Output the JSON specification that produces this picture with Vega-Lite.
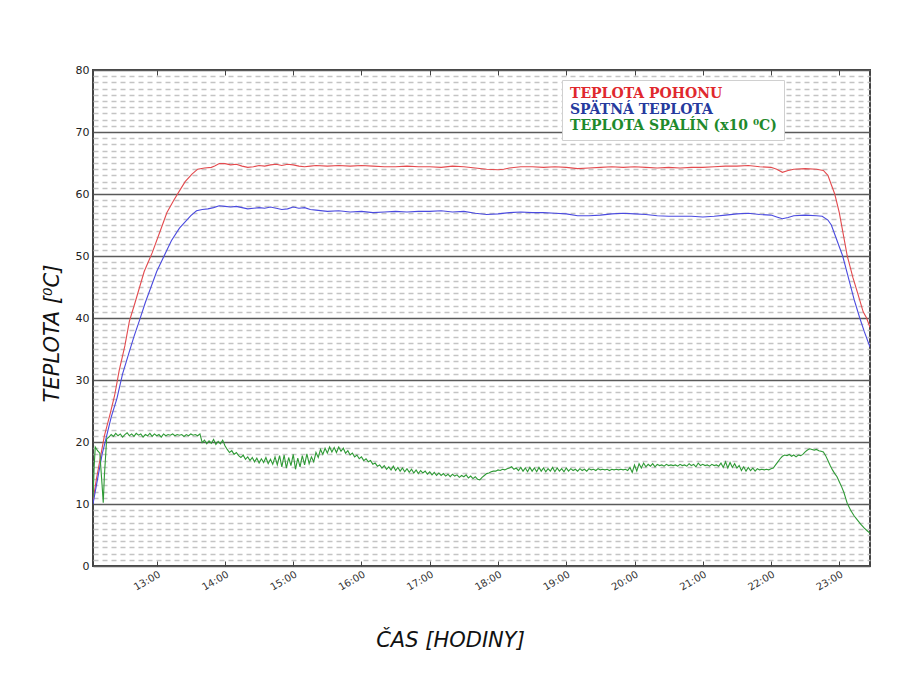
{
  "$schema": "https://vega.github.io/schema/vega-lite/v6.json",
  "width": 777,
  "height": 496,
  "autosize": {"type": "none"},
  "padding": {"left": 93, "top": 70, "right": 30, "bottom": 109},
  "background": "white",
  "config": {
    "view": {"stroke": "#444444", "strokeWidth": 2},
    "font": "DejaVu Sans"
  },
  "data": {
    "values": [
      {"s":"a","t":"2024-01-01T12:04","v":10.5},{"s":"a","t":"2024-01-01T12:07","v":14},{"s":"a","t":"2024-01-01T12:11","v":18},{"s":"a","t":"2024-01-01T12:14","v":21},{"s":"a","t":"2024-01-01T12:19","v":24.5},{"s":"a","t":"2024-01-01T12:23","v":27.5},{"s":"a","t":"2024-01-01T12:27","v":31.5},{"s":"a","t":"2024-01-01T12:32","v":35.5},{"s":"a","t":"2024-01-01T12:36","v":39.5},{"s":"a","t":"2024-01-01T12:41","v":42.5},{"s":"a","t":"2024-01-01T12:45","v":45},{"s":"a","t":"2024-01-01T12:49","v":47.5},{"s":"a","t":"2024-01-01T12:56","v":50.5},{"s":"a","t":"2024-01-01T13:03","v":54},{"s":"a","t":"2024-01-01T13:09","v":57},{"s":"a","t":"2024-01-01T13:15","v":59},{"s":"a","t":"2024-01-01T13:20","v":60.5},{"s":"a","t":"2024-01-01T13:25","v":62},{"s":"a","t":"2024-01-01T13:31","v":63.2},{"s":"a","t":"2024-01-01T13:36","v":64},{"s":"a","t":"2024-01-01T13:42","v":64.2},{"s":"a","t":"2024-01-01T13:48","v":64.3},{"s":"a","t":"2024-01-01T13:51","v":64.5},{"s":"a","t":"2024-01-01T13:55","v":64.9},{"s":"a","t":"2024-01-01T14:00","v":64.9},{"s":"a","t":"2024-01-01T14:05","v":64.7},{"s":"a","t":"2024-01-01T14:10","v":64.8},{"s":"a","t":"2024-01-01T14:15","v":64.5},{"s":"a","t":"2024-01-01T14:20","v":64.3},{"s":"a","t":"2024-01-01T14:25","v":64.4},{"s":"a","t":"2024-01-01T14:30","v":64.6},{"s":"a","t":"2024-01-01T14:35","v":64.5},{"s":"a","t":"2024-01-01T14:40","v":64.7},{"s":"a","t":"2024-01-01T14:45","v":64.8},{"s":"a","t":"2024-01-01T14:50","v":64.6},{"s":"a","t":"2024-01-01T14:55","v":64.8},{"s":"a","t":"2024-01-01T15:00","v":64.7},{"s":"a","t":"2024-01-01T15:05","v":64.5},{"s":"a","t":"2024-01-01T15:10","v":64.4},{"s":"a","t":"2024-01-01T15:15","v":64.5},{"s":"a","t":"2024-01-01T15:20","v":64.6},{"s":"a","t":"2024-01-01T15:30","v":64.5},{"s":"a","t":"2024-01-01T15:40","v":64.6},{"s":"a","t":"2024-01-01T15:50","v":64.5},{"s":"a","t":"2024-01-01T16:00","v":64.6},{"s":"a","t":"2024-01-01T16:10","v":64.5},{"s":"a","t":"2024-01-01T16:20","v":64.4},{"s":"a","t":"2024-01-01T16:30","v":64.4},{"s":"a","t":"2024-01-01T16:40","v":64.5},{"s":"a","t":"2024-01-01T16:50","v":64.4},{"s":"a","t":"2024-01-01T17:00","v":64.4},{"s":"a","t":"2024-01-01T17:10","v":64.3},{"s":"a","t":"2024-01-01T17:20","v":64.5},{"s":"a","t":"2024-01-01T17:30","v":64.4},{"s":"a","t":"2024-01-01T17:40","v":64.2},{"s":"a","t":"2024-01-01T17:50","v":64.0},{"s":"a","t":"2024-01-01T18:00","v":63.9},{"s":"a","t":"2024-01-01T18:05","v":64.0},{"s":"a","t":"2024-01-01T18:10","v":64.2},{"s":"a","t":"2024-01-01T18:20","v":64.4},{"s":"a","t":"2024-01-01T18:30","v":64.4},{"s":"a","t":"2024-01-01T18:40","v":64.3},{"s":"a","t":"2024-01-01T18:50","v":64.4},{"s":"a","t":"2024-01-01T19:00","v":64.3},{"s":"a","t":"2024-01-01T19:10","v":64.1},{"s":"a","t":"2024-01-01T19:20","v":64.2},{"s":"a","t":"2024-01-01T19:30","v":64.3},{"s":"a","t":"2024-01-01T19:40","v":64.4},{"s":"a","t":"2024-01-01T19:50","v":64.3},{"s":"a","t":"2024-01-01T20:00","v":64.4},{"s":"a","t":"2024-01-01T20:10","v":64.3},{"s":"a","t":"2024-01-01T20:20","v":64.2},{"s":"a","t":"2024-01-01T20:30","v":64.3},{"s":"a","t":"2024-01-01T20:40","v":64.2},{"s":"a","t":"2024-01-01T20:50","v":64.3},{"s":"a","t":"2024-01-01T21:00","v":64.3},{"s":"a","t":"2024-01-01T21:10","v":64.4},{"s":"a","t":"2024-01-01T21:20","v":64.5},{"s":"a","t":"2024-01-01T21:30","v":64.5},{"s":"a","t":"2024-01-01T21:40","v":64.6},{"s":"a","t":"2024-01-01T21:50","v":64.4},{"s":"a","t":"2024-01-01T22:00","v":64.3},{"s":"a","t":"2024-01-01T22:05","v":64.0},{"s":"a","t":"2024-01-01T22:10","v":63.5},{"s":"a","t":"2024-01-01T22:15","v":63.8},{"s":"a","t":"2024-01-01T22:20","v":64.0},{"s":"a","t":"2024-01-01T22:30","v":64.1},{"s":"a","t":"2024-01-01T22:40","v":64.0},{"s":"a","t":"2024-01-01T22:46","v":63.8},{"s":"a","t":"2024-01-01T22:50","v":63.0},{"s":"a","t":"2024-01-01T22:53","v":61.5},{"s":"a","t":"2024-01-01T22:56","v":60},{"s":"a","t":"2024-01-01T23:00","v":57},{"s":"a","t":"2024-01-01T23:04","v":53},{"s":"a","t":"2024-01-01T23:07","v":50},{"s":"a","t":"2024-01-01T23:12","v":46.5},{"s":"a","t":"2024-01-01T23:17","v":43.5},{"s":"a","t":"2024-01-01T23:21","v":41},{"s":"a","t":"2024-01-01T23:24","v":40},{"s":"a","t":"2024-01-01T23:27","v":38.5},
      {"s":"b","t":"2024-01-01T12:04","v":10},{"s":"b","t":"2024-01-01T12:08","v":14},{"s":"b","t":"2024-01-01T12:12","v":18},{"s":"b","t":"2024-01-01T12:16","v":21},{"s":"b","t":"2024-01-01T12:20","v":24},{"s":"b","t":"2024-01-01T12:25","v":27},{"s":"b","t":"2024-01-01T12:30","v":31},{"s":"b","t":"2024-01-01T12:35","v":34},{"s":"b","t":"2024-01-01T12:40","v":37},{"s":"b","t":"2024-01-01T12:45","v":39.7},{"s":"b","t":"2024-01-01T12:50","v":42.5},{"s":"b","t":"2024-01-01T12:55","v":45},{"s":"b","t":"2024-01-01T13:00","v":47.5},{"s":"b","t":"2024-01-01T13:07","v":50.2},{"s":"b","t":"2024-01-01T13:13","v":52.5},{"s":"b","t":"2024-01-01T13:20","v":54.5},{"s":"b","t":"2024-01-01T13:25","v":55.5},{"s":"b","t":"2024-01-01T13:30","v":56.5},{"s":"b","t":"2024-01-01T13:35","v":57.3},{"s":"b","t":"2024-01-01T13:40","v":57.5},{"s":"b","t":"2024-01-01T13:45","v":57.6},{"s":"b","t":"2024-01-01T13:50","v":57.8},{"s":"b","t":"2024-01-01T13:55","v":58.1},{"s":"b","t":"2024-01-01T14:00","v":58.0},{"s":"b","t":"2024-01-01T14:05","v":57.9},{"s":"b","t":"2024-01-01T14:10","v":58.0},{"s":"b","t":"2024-01-01T14:15","v":57.8},{"s":"b","t":"2024-01-01T14:20","v":57.6},{"s":"b","t":"2024-01-01T14:25","v":57.7},{"s":"b","t":"2024-01-01T14:30","v":57.8},{"s":"b","t":"2024-01-01T14:35","v":57.7},{"s":"b","t":"2024-01-01T14:40","v":57.9},{"s":"b","t":"2024-01-01T14:45","v":57.7},{"s":"b","t":"2024-01-01T14:50","v":57.5},{"s":"b","t":"2024-01-01T14:55","v":57.6},{"s":"b","t":"2024-01-01T15:00","v":57.9},{"s":"b","t":"2024-01-01T15:05","v":57.7},{"s":"b","t":"2024-01-01T15:10","v":57.8},{"s":"b","t":"2024-01-01T15:15","v":57.5},{"s":"b","t":"2024-01-01T15:20","v":57.4},{"s":"b","t":"2024-01-01T15:30","v":57.2},{"s":"b","t":"2024-01-01T15:40","v":57.3},{"s":"b","t":"2024-01-01T15:50","v":57.1},{"s":"b","t":"2024-01-01T16:00","v":57.2},{"s":"b","t":"2024-01-01T16:10","v":57.0},{"s":"b","t":"2024-01-01T16:20","v":57.1},{"s":"b","t":"2024-01-01T16:30","v":57.2},{"s":"b","t":"2024-01-01T16:40","v":57.1},{"s":"b","t":"2024-01-01T16:50","v":57.2},{"s":"b","t":"2024-01-01T17:00","v":57.2},{"s":"b","t":"2024-01-01T17:10","v":57.3},{"s":"b","t":"2024-01-01T17:20","v":57.1},{"s":"b","t":"2024-01-01T17:30","v":57.2},{"s":"b","t":"2024-01-01T17:40","v":56.9},{"s":"b","t":"2024-01-01T17:50","v":56.7},{"s":"b","t":"2024-01-01T18:00","v":56.8},{"s":"b","t":"2024-01-01T18:10","v":57.0},{"s":"b","t":"2024-01-01T18:20","v":57.1},{"s":"b","t":"2024-01-01T18:30","v":57.0},{"s":"b","t":"2024-01-01T18:40","v":57.0},{"s":"b","t":"2024-01-01T18:50","v":56.9},{"s":"b","t":"2024-01-01T19:00","v":56.8},{"s":"b","t":"2024-01-01T19:10","v":56.5},{"s":"b","t":"2024-01-01T19:20","v":56.5},{"s":"b","t":"2024-01-01T19:30","v":56.6},{"s":"b","t":"2024-01-01T19:40","v":56.8},{"s":"b","t":"2024-01-01T19:50","v":56.9},{"s":"b","t":"2024-01-01T20:00","v":56.8},{"s":"b","t":"2024-01-01T20:10","v":56.7},{"s":"b","t":"2024-01-01T20:20","v":56.5},{"s":"b","t":"2024-01-01T20:30","v":56.4},{"s":"b","t":"2024-01-01T20:40","v":56.4},{"s":"b","t":"2024-01-01T20:50","v":56.4},{"s":"b","t":"2024-01-01T21:00","v":56.3},{"s":"b","t":"2024-01-01T21:10","v":56.4},{"s":"b","t":"2024-01-01T21:20","v":56.6},{"s":"b","t":"2024-01-01T21:30","v":56.8},{"s":"b","t":"2024-01-01T21:40","v":56.9},{"s":"b","t":"2024-01-01T21:50","v":56.7},{"s":"b","t":"2024-01-01T22:00","v":56.6},{"s":"b","t":"2024-01-01T22:05","v":56.3},{"s":"b","t":"2024-01-01T22:10","v":56.0},{"s":"b","t":"2024-01-01T22:15","v":56.2},{"s":"b","t":"2024-01-01T22:20","v":56.5},{"s":"b","t":"2024-01-01T22:30","v":56.6},{"s":"b","t":"2024-01-01T22:40","v":56.5},{"s":"b","t":"2024-01-01T22:45","v":56.4},{"s":"b","t":"2024-01-01T22:50","v":55.8},{"s":"b","t":"2024-01-01T22:53","v":55.0},{"s":"b","t":"2024-01-01T22:56","v":53.5},{"s":"b","t":"2024-01-01T23:00","v":51.5},{"s":"b","t":"2024-01-01T23:03","v":50},{"s":"b","t":"2024-01-01T23:08","v":46.5},{"s":"b","t":"2024-01-01T23:13","v":43},{"s":"b","t":"2024-01-01T23:18","v":40},{"s":"b","t":"2024-01-01T23:22","v":37.8},{"s":"b","t":"2024-01-01T23:27","v":35.3},
      {"s":"c","t":"2024-01-01T12:04","v":11},{"s":"c","t":"2024-01-01T12:05","v":16},{"s":"c","t":"2024-01-01T12:06","v":19.2},{"s":"c","t":"2024-01-01T12:08","v":18.6},{"s":"c","t":"2024-01-01T12:10","v":18.2},{"s":"c","t":"2024-01-01T12:12","v":13},{"s":"c","t":"2024-01-01T12:13","v":10.2},{"s":"c","t":"2024-01-01T12:14","v":14.5},{"s":"c","t":"2024-01-01T12:16","v":20.5},{"s":"c","t":"2024-01-01T12:18","v":20.8},{"s":"c","t":"2024-01-01T12:20","v":21.2},{"s":"c","t":"2024-01-01T12:22","v":20.9},{"s":"c","t":"2024-01-01T12:24","v":21.4},{"s":"c","t":"2024-01-01T12:26","v":21.0},{"s":"c","t":"2024-01-01T12:28","v":21.3},{"s":"c","t":"2024-01-01T12:30","v":20.8},{"s":"c","t":"2024-01-01T12:32","v":21.2},{"s":"c","t":"2024-01-01T12:34","v":21.5},{"s":"c","t":"2024-01-01T12:36","v":21.0},{"s":"c","t":"2024-01-01T12:38","v":21.3},{"s":"c","t":"2024-01-01T12:40","v":20.9},{"s":"c","t":"2024-01-01T12:42","v":21.4},{"s":"c","t":"2024-01-01T12:44","v":21.1},{"s":"c","t":"2024-01-01T12:46","v":21.3},{"s":"c","t":"2024-01-01T12:48","v":20.8},{"s":"c","t":"2024-01-01T12:50","v":21.2},{"s":"c","t":"2024-01-01T12:52","v":21.0},{"s":"c","t":"2024-01-01T12:54","v":21.4},{"s":"c","t":"2024-01-01T12:56","v":20.9},{"s":"c","t":"2024-01-01T12:58","v":21.3},{"s":"c","t":"2024-01-01T13:00","v":21.0},{"s":"c","t":"2024-01-01T13:02","v":21.2},{"s":"c","t":"2024-01-01T13:04","v":20.8},{"s":"c","t":"2024-01-01T13:06","v":21.3},{"s":"c","t":"2024-01-01T13:08","v":21.0},{"s":"c","t":"2024-01-01T13:10","v":21.2},{"s":"c","t":"2024-01-01T13:12","v":21.1},{"s":"c","t":"2024-01-01T13:14","v":21.3},{"s":"c","t":"2024-01-01T13:16","v":21.0},{"s":"c","t":"2024-01-01T13:18","v":21.2},{"s":"c","t":"2024-01-01T13:20","v":21.1},{"s":"c","t":"2024-01-01T13:22","v":21.2},{"s":"c","t":"2024-01-01T13:24","v":20.9},{"s":"c","t":"2024-01-01T13:26","v":21.2},{"s":"c","t":"2024-01-01T13:28","v":21.0},{"s":"c","t":"2024-01-01T13:30","v":21.3},{"s":"c","t":"2024-01-01T13:32","v":21.1},{"s":"c","t":"2024-01-01T13:34","v":21.2},{"s":"c","t":"2024-01-01T13:36","v":21.0},{"s":"c","t":"2024-01-01T13:38","v":21.3},{"s":"c","t":"2024-01-01T13:40","v":19.9},{"s":"c","t":"2024-01-01T13:42","v":20.3},{"s":"c","t":"2024-01-01T13:44","v":19.7},{"s":"c","t":"2024-01-01T13:46","v":20.2},{"s":"c","t":"2024-01-01T13:48","v":19.8},{"s":"c","t":"2024-01-01T13:50","v":20.4},{"s":"c","t":"2024-01-01T13:52","v":19.6},{"s":"c","t":"2024-01-01T13:54","v":20.1},{"s":"c","t":"2024-01-01T13:56","v":19.7},{"s":"c","t":"2024-01-01T13:58","v":20.3},{"s":"c","t":"2024-01-01T14:00","v":19.4},{"s":"c","t":"2024-01-01T14:02","v":18.8},{"s":"c","t":"2024-01-01T14:04","v":18.3},{"s":"c","t":"2024-01-01T14:06","v":18.6},{"s":"c","t":"2024-01-01T14:08","v":18.0},{"s":"c","t":"2024-01-01T14:10","v":18.3},{"s":"c","t":"2024-01-01T14:12","v":17.8},{"s":"c","t":"2024-01-01T14:14","v":17.5},{"s":"c","t":"2024-01-01T14:16","v":17.9},{"s":"c","t":"2024-01-01T14:18","v":17.2},{"s":"c","t":"2024-01-01T14:20","v":17.6},{"s":"c","t":"2024-01-01T14:22","v":17.0},{"s":"c","t":"2024-01-01T14:24","v":17.5},{"s":"c","t":"2024-01-01T14:26","v":16.8},{"s":"c","t":"2024-01-01T14:28","v":17.4},{"s":"c","t":"2024-01-01T14:30","v":16.6},{"s":"c","t":"2024-01-01T14:32","v":17.3},{"s":"c","t":"2024-01-01T14:34","v":16.7},{"s":"c","t":"2024-01-01T14:36","v":17.5},{"s":"c","t":"2024-01-01T14:38","v":16.5},{"s":"c","t":"2024-01-01T14:40","v":17.2},{"s":"c","t":"2024-01-01T14:42","v":16.4},{"s":"c","t":"2024-01-01T14:44","v":17.6},{"s":"c","t":"2024-01-01T14:46","v":16.3},{"s":"c","t":"2024-01-01T14:48","v":17.8},{"s":"c","t":"2024-01-01T14:50","v":16.0},{"s":"c","t":"2024-01-01T14:52","v":17.9},{"s":"c","t":"2024-01-01T14:54","v":15.8},{"s":"c","t":"2024-01-01T14:56","v":17.5},{"s":"c","t":"2024-01-01T14:58","v":16.2},{"s":"c","t":"2024-01-01T15:00","v":18.0},{"s":"c","t":"2024-01-01T15:02","v":15.6},{"s":"c","t":"2024-01-01T15:04","v":17.4},{"s":"c","t":"2024-01-01T15:06","v":16.0},{"s":"c","t":"2024-01-01T15:08","v":17.8},{"s":"c","t":"2024-01-01T15:10","v":16.3},{"s":"c","t":"2024-01-01T15:12","v":18.1},{"s":"c","t":"2024-01-01T15:14","v":16.5},{"s":"c","t":"2024-01-01T15:16","v":17.6},{"s":"c","t":"2024-01-01T15:18","v":16.8},{"s":"c","t":"2024-01-01T15:20","v":18.3},{"s":"c","t":"2024-01-01T15:22","v":17.5},{"s":"c","t":"2024-01-01T15:24","v":18.8},{"s":"c","t":"2024-01-01T15:26","v":18.0},{"s":"c","t":"2024-01-01T15:28","v":19.0},{"s":"c","t":"2024-01-01T15:30","v":18.2},{"s":"c","t":"2024-01-01T15:32","v":19.2},{"s":"c","t":"2024-01-01T15:34","v":18.4},{"s":"c","t":"2024-01-01T15:36","v":19.1},{"s":"c","t":"2024-01-01T15:38","v":18.3},{"s":"c","t":"2024-01-01T15:40","v":19.2},{"s":"c","t":"2024-01-01T15:42","v":18.5},{"s":"c","t":"2024-01-01T15:44","v":19.0},{"s":"c","t":"2024-01-01T15:46","v":18.2},{"s":"c","t":"2024-01-01T15:48","v":18.6},{"s":"c","t":"2024-01-01T15:50","v":17.9},{"s":"c","t":"2024-01-01T15:52","v":18.2},{"s":"c","t":"2024-01-01T15:54","v":17.6},{"s":"c","t":"2024-01-01T15:56","v":17.9},{"s":"c","t":"2024-01-01T15:58","v":17.3},{"s":"c","t":"2024-01-01T16:00","v":17.6},{"s":"c","t":"2024-01-01T16:02","v":17.0},{"s":"c","t":"2024-01-01T16:04","v":17.3},{"s":"c","t":"2024-01-01T16:06","v":16.8},{"s":"c","t":"2024-01-01T16:08","v":17.0},{"s":"c","t":"2024-01-01T16:10","v":16.4},{"s":"c","t":"2024-01-01T16:12","v":16.6},{"s":"c","t":"2024-01-01T16:14","v":16.1},{"s":"c","t":"2024-01-01T16:16","v":16.3},{"s":"c","t":"2024-01-01T16:18","v":15.8},{"s":"c","t":"2024-01-01T16:20","v":16.2},{"s":"c","t":"2024-01-01T16:22","v":15.6},{"s":"c","t":"2024-01-01T16:24","v":16.0},{"s":"c","t":"2024-01-01T16:26","v":15.5},{"s":"c","t":"2024-01-01T16:28","v":16.1},{"s":"c","t":"2024-01-01T16:30","v":15.4},{"s":"c","t":"2024-01-01T16:32","v":15.9},{"s":"c","t":"2024-01-01T16:34","v":15.3},{"s":"c","t":"2024-01-01T16:36","v":15.8},{"s":"c","t":"2024-01-01T16:38","v":15.2},{"s":"c","t":"2024-01-01T16:40","v":15.7},{"s":"c","t":"2024-01-01T16:42","v":15.1},{"s":"c","t":"2024-01-01T16:44","v":15.6},{"s":"c","t":"2024-01-01T16:46","v":15.0},{"s":"c","t":"2024-01-01T16:48","v":15.5},{"s":"c","t":"2024-01-01T16:50","v":14.9},{"s":"c","t":"2024-01-01T16:52","v":15.4},{"s":"c","t":"2024-01-01T16:54","v":15.0},{"s":"c","t":"2024-01-01T16:56","v":15.3},{"s":"c","t":"2024-01-01T16:58","v":14.8},{"s":"c","t":"2024-01-01T17:00","v":15.2},{"s":"c","t":"2024-01-01T17:02","v":14.7},{"s":"c","t":"2024-01-01T17:04","v":15.1},{"s":"c","t":"2024-01-01T17:06","v":14.6},{"s":"c","t":"2024-01-01T17:08","v":15.0},{"s":"c","t":"2024-01-01T17:10","v":14.6},{"s":"c","t":"2024-01-01T17:12","v":14.9},{"s":"c","t":"2024-01-01T17:14","v":14.5},{"s":"c","t":"2024-01-01T17:16","v":14.8},{"s":"c","t":"2024-01-01T17:18","v":14.4},{"s":"c","t":"2024-01-01T17:20","v":14.8},{"s":"c","t":"2024-01-01T17:22","v":14.5},{"s":"c","t":"2024-01-01T17:24","v":14.7},{"s":"c","t":"2024-01-01T17:26","v":14.3},{"s":"c","t":"2024-01-01T17:28","v":14.6},{"s":"c","t":"2024-01-01T17:30","v":14.4},{"s":"c","t":"2024-01-01T17:32","v":14.7},{"s":"c","t":"2024-01-01T17:34","v":14.2},{"s":"c","t":"2024-01-01T17:36","v":14.5},{"s":"c","t":"2024-01-01T17:38","v":14.1},{"s":"c","t":"2024-01-01T17:40","v":14.4},{"s":"c","t":"2024-01-01T17:42","v":14.0},{"s":"c","t":"2024-01-01T17:44","v":13.9},{"s":"c","t":"2024-01-01T17:46","v":14.3},{"s":"c","t":"2024-01-01T17:48","v":14.6},{"s":"c","t":"2024-01-01T17:50","v":14.9},{"s":"c","t":"2024-01-01T17:52","v":15.0},{"s":"c","t":"2024-01-01T17:54","v":15.2},{"s":"c","t":"2024-01-01T17:56","v":15.3},{"s":"c","t":"2024-01-01T17:58","v":15.3},{"s":"c","t":"2024-01-01T18:00","v":15.5},{"s":"c","t":"2024-01-01T18:02","v":15.4},{"s":"c","t":"2024-01-01T18:04","v":15.6},{"s":"c","t":"2024-01-01T18:06","v":15.5},{"s":"c","t":"2024-01-01T18:08","v":15.7},{"s":"c","t":"2024-01-01T18:10","v":15.8},{"s":"c","t":"2024-01-01T18:12","v":16.0},{"s":"c","t":"2024-01-01T18:14","v":15.6},{"s":"c","t":"2024-01-01T18:16","v":15.8},{"s":"c","t":"2024-01-01T18:18","v":15.4},{"s":"c","t":"2024-01-01T18:20","v":15.9},{"s":"c","t":"2024-01-01T18:22","v":15.3},{"s":"c","t":"2024-01-01T18:24","v":15.8},{"s":"c","t":"2024-01-01T18:26","v":15.2},{"s":"c","t":"2024-01-01T18:28","v":15.9},{"s":"c","t":"2024-01-01T18:30","v":15.3},{"s":"c","t":"2024-01-01T18:32","v":15.8},{"s":"c","t":"2024-01-01T18:34","v":15.2},{"s":"c","t":"2024-01-01T18:36","v":15.9},{"s":"c","t":"2024-01-01T18:38","v":15.3},{"s":"c","t":"2024-01-01T18:40","v":15.8},{"s":"c","t":"2024-01-01T18:42","v":15.2},{"s":"c","t":"2024-01-01T18:44","v":15.7},{"s":"c","t":"2024-01-01T18:46","v":15.3},{"s":"c","t":"2024-01-01T18:48","v":15.9},{"s":"c","t":"2024-01-01T18:50","v":15.2},{"s":"c","t":"2024-01-01T18:52","v":15.8},{"s":"c","t":"2024-01-01T18:54","v":15.3},{"s":"c","t":"2024-01-01T18:56","v":15.7},{"s":"c","t":"2024-01-01T18:58","v":15.2},{"s":"c","t":"2024-01-01T19:00","v":15.8},{"s":"c","t":"2024-01-01T19:02","v":15.3},{"s":"c","t":"2024-01-01T19:04","v":15.7},{"s":"c","t":"2024-01-01T19:06","v":15.4},{"s":"c","t":"2024-01-01T19:08","v":15.6},{"s":"c","t":"2024-01-01T19:10","v":15.3},{"s":"c","t":"2024-01-01T19:12","v":15.7},{"s":"c","t":"2024-01-01T19:14","v":15.4},{"s":"c","t":"2024-01-01T19:16","v":15.6},{"s":"c","t":"2024-01-01T19:18","v":15.3},{"s":"c","t":"2024-01-01T19:20","v":15.7},{"s":"c","t":"2024-01-01T19:22","v":15.5},{"s":"c","t":"2024-01-01T19:24","v":15.6},{"s":"c","t":"2024-01-01T19:26","v":15.4},{"s":"c","t":"2024-01-01T19:28","v":15.7},{"s":"c","t":"2024-01-01T19:30","v":15.5},{"s":"c","t":"2024-01-01T19:32","v":15.6},{"s":"c","t":"2024-01-01T19:34","v":15.5},{"s":"c","t":"2024-01-01T19:36","v":15.6},{"s":"c","t":"2024-01-01T19:38","v":15.4},{"s":"c","t":"2024-01-01T19:40","v":15.6},{"s":"c","t":"2024-01-01T19:42","v":15.5},{"s":"c","t":"2024-01-01T19:44","v":15.6},{"s":"c","t":"2024-01-01T19:46","v":15.5},{"s":"c","t":"2024-01-01T19:48","v":15.6},{"s":"c","t":"2024-01-01T19:50","v":15.5},{"s":"c","t":"2024-01-01T19:52","v":15.6},{"s":"c","t":"2024-01-01T19:54","v":15.4},{"s":"c","t":"2024-01-01T19:56","v":15.9},{"s":"c","t":"2024-01-01T19:58","v":15.1},{"s":"c","t":"2024-01-01T20:00","v":16.3},{"s":"c","t":"2024-01-01T20:02","v":15.3},{"s":"c","t":"2024-01-01T20:04","v":16.5},{"s":"c","t":"2024-01-01T20:06","v":15.8},{"s":"c","t":"2024-01-01T20:08","v":16.6},{"s":"c","t":"2024-01-01T20:10","v":16.0},{"s":"c","t":"2024-01-01T20:12","v":16.4},{"s":"c","t":"2024-01-01T20:14","v":16.1},{"s":"c","t":"2024-01-01T20:16","v":16.5},{"s":"c","t":"2024-01-01T20:18","v":16.0},{"s":"c","t":"2024-01-01T20:20","v":16.4},{"s":"c","t":"2024-01-01T20:22","v":16.2},{"s":"c","t":"2024-01-01T20:24","v":16.3},{"s":"c","t":"2024-01-01T20:26","v":16.1},{"s":"c","t":"2024-01-01T20:28","v":16.4},{"s":"c","t":"2024-01-01T20:30","v":16.2},{"s":"c","t":"2024-01-01T20:32","v":16.3},{"s":"c","t":"2024-01-01T20:34","v":16.2},{"s":"c","t":"2024-01-01T20:36","v":16.3},{"s":"c","t":"2024-01-01T20:38","v":16.1},{"s":"c","t":"2024-01-01T20:40","v":16.4},{"s":"c","t":"2024-01-01T20:42","v":16.2},{"s":"c","t":"2024-01-01T20:44","v":16.3},{"s":"c","t":"2024-01-01T20:46","v":16.1},{"s":"c","t":"2024-01-01T20:48","v":16.5},{"s":"c","t":"2024-01-01T20:50","v":16.2},{"s":"c","t":"2024-01-01T20:52","v":16.4},{"s":"c","t":"2024-01-01T20:54","v":16.0},{"s":"c","t":"2024-01-01T20:56","v":16.6},{"s":"c","t":"2024-01-01T20:58","v":16.2},{"s":"c","t":"2024-01-01T21:00","v":16.4},{"s":"c","t":"2024-01-01T21:02","v":16.2},{"s":"c","t":"2024-01-01T21:04","v":16.3},{"s":"c","t":"2024-01-01T21:06","v":16.1},{"s":"c","t":"2024-01-01T21:08","v":16.4},{"s":"c","t":"2024-01-01T21:10","v":16.2},{"s":"c","t":"2024-01-01T21:12","v":16.3},{"s":"c","t":"2024-01-01T21:14","v":16.1},{"s":"c","t":"2024-01-01T21:16","v":16.6},{"s":"c","t":"2024-01-01T21:18","v":15.9},{"s":"c","t":"2024-01-01T21:20","v":16.8},{"s":"c","t":"2024-01-01T21:22","v":15.8},{"s":"c","t":"2024-01-01T21:24","v":16.7},{"s":"c","t":"2024-01-01T21:26","v":15.9},{"s":"c","t":"2024-01-01T21:28","v":16.5},{"s":"c","t":"2024-01-01T21:30","v":15.8},{"s":"c","t":"2024-01-01T21:32","v":16.2},{"s":"c","t":"2024-01-01T21:34","v":15.4},{"s":"c","t":"2024-01-01T21:36","v":16.0},{"s":"c","t":"2024-01-01T21:38","v":15.3},{"s":"c","t":"2024-01-01T21:40","v":15.9},{"s":"c","t":"2024-01-01T21:42","v":15.4},{"s":"c","t":"2024-01-01T21:44","v":15.8},{"s":"c","t":"2024-01-01T21:46","v":15.3},{"s":"c","t":"2024-01-01T21:48","v":15.7},{"s":"c","t":"2024-01-01T21:50","v":15.5},{"s":"c","t":"2024-01-01T21:52","v":15.6},{"s":"c","t":"2024-01-01T21:54","v":15.5},{"s":"c","t":"2024-01-01T21:56","v":15.6},{"s":"c","t":"2024-01-01T21:58","v":15.5},{"s":"c","t":"2024-01-01T22:00","v":15.7},{"s":"c","t":"2024-01-01T22:02","v":15.8},{"s":"c","t":"2024-01-01T22:04","v":16.3},{"s":"c","t":"2024-01-01T22:06","v":16.8},{"s":"c","t":"2024-01-01T22:08","v":17.3},{"s":"c","t":"2024-01-01T22:10","v":17.7},{"s":"c","t":"2024-01-01T22:12","v":17.9},{"s":"c","t":"2024-01-01T22:14","v":17.8},{"s":"c","t":"2024-01-01T22:16","v":18.0},{"s":"c","t":"2024-01-01T22:18","v":17.7},{"s":"c","t":"2024-01-01T22:20","v":17.9},{"s":"c","t":"2024-01-01T22:22","v":17.6},{"s":"c","t":"2024-01-01T22:24","v":17.9},{"s":"c","t":"2024-01-01T22:26","v":17.8},{"s":"c","t":"2024-01-01T22:28","v":18.0},{"s":"c","t":"2024-01-01T22:30","v":18.4},{"s":"c","t":"2024-01-01T22:32","v":18.7},{"s":"c","t":"2024-01-01T22:34","v":18.9},{"s":"c","t":"2024-01-01T22:36","v":18.8},{"s":"c","t":"2024-01-01T22:38","v":18.7},{"s":"c","t":"2024-01-01T22:40","v":18.8},{"s":"c","t":"2024-01-01T22:42","v":18.6},{"s":"c","t":"2024-01-01T22:44","v":18.5},{"s":"c","t":"2024-01-01T22:46","v":18.4},{"s":"c","t":"2024-01-01T22:48","v":17.8},{"s":"c","t":"2024-01-01T22:50","v":17.0},{"s":"c","t":"2024-01-01T22:52","v":16.2},{"s":"c","t":"2024-01-01T22:54","v":15.5},{"s":"c","t":"2024-01-01T22:56","v":14.9},{"s":"c","t":"2024-01-01T22:58","v":14.4},{"s":"c","t":"2024-01-01T23:00","v":13.6},{"s":"c","t":"2024-01-01T23:02","v":12.8},{"s":"c","t":"2024-01-01T23:04","v":11.9},{"s":"c","t":"2024-01-01T23:07","v":10.1},{"s":"c","t":"2024-01-01T23:10","v":9.0},{"s":"c","t":"2024-01-01T23:13","v":8.1},{"s":"c","t":"2024-01-01T23:16","v":7.4},{"s":"c","t":"2024-01-01T23:19","v":6.7},{"s":"c","t":"2024-01-01T23:22","v":6.1},{"s":"c","t":"2024-01-01T23:25","v":5.6},{"s":"c","t":"2024-01-01T23:27","v":5.3}
    ]
  },
  "layer": [
    {
      "mark": {"type": "line", "opacity": 0},
      "encoding": {
        "x": {
          "field": "t", "type": "temporal",
          "axis": {
            "orient": "top",
            "values": [{"year":2024,"month":1,"date":1,"hours":13},{"year":2024,"month":1,"date":1,"hours":14},{"year":2024,"month":1,"date":1,"hours":15},{"year":2024,"month":1,"date":1,"hours":16},{"year":2024,"month":1,"date":1,"hours":17},{"year":2024,"month":1,"date":1,"hours":18},{"year":2024,"month":1,"date":1,"hours":19},{"year":2024,"month":1,"date":1,"hours":20},{"year":2024,"month":1,"date":1,"hours":21},{"year":2024,"month":1,"date":1,"hours":22},{"year":2024,"month":1,"date":1,"hours":23}],
            "labels": false,
            "tickSize": -5,
            "tickColor": "#444444",
            "domain": false,
            "grid": false,
            "title": null
          }
        },
        "y": {
          "field": "v", "type": "quantitative",
          "axis": {
            "orient": "left",
            "values": [1,2,3,4,5,6,7,8,9,11,12,13,14,15,16,17,18,19,21,22,23,24,25,26,27,28,29,31,32,33,34,35,36,37,38,39,41,42,43,44,45,46,47,48,49,51,52,53,54,55,56,57,58,59,61,62,63,64,65,66,67,68,69,71,72,73,74,75,76,77,78,79],
            "labels": false,
            "ticks": false,
            "domain": false,
            "grid": true,
            "gridColor": "#c4c4c4",
            "gridDash": [5, 4],
            "gridWidth": 1.5,
            "title": null
          }
        },
        "detail": {"field": "s"}
      }
    },
    {
      "mark": {"type": "line", "strokeWidth": 1.1, "clip": true},
      "encoding": {
        "x": {
          "field": "t", "type": "temporal",
          "scale": {"nice": false},
          "axis": {
            "orient": "bottom",
            "values": [{"year":2024,"month":1,"date":1,"hours":13},{"year":2024,"month":1,"date":1,"hours":14},{"year":2024,"month":1,"date":1,"hours":15},{"year":2024,"month":1,"date":1,"hours":16},{"year":2024,"month":1,"date":1,"hours":17},{"year":2024,"month":1,"date":1,"hours":18},{"year":2024,"month":1,"date":1,"hours":19},{"year":2024,"month":1,"date":1,"hours":20},{"year":2024,"month":1,"date":1,"hours":21},{"year":2024,"month":1,"date":1,"hours":22},{"year":2024,"month":1,"date":1,"hours":23}],
            "format": "%H:%M",
            "labelAngle": -30,
            "labelAlign": "right",
            "labelBaseline": "top",
            "labelFontSize": 10,
            "labelColor": "#333333",
            "labelPadding": 8,
            "labelFlush": false,
            "labelOverlap": false,
            "tickSize": -5,
            "tickColor": "#444444",
            "tickWidth": 1,
            "domain": false,
            "grid": false,
            "title": "ČAS [HODINY]",
            "titleFont": "DejaVu Sans",
            "titleFontStyle": "italic",
            "titleFontWeight": "normal",
            "titleFontSize": 21,
            "titleColor": "#111111",
            "titleX": 357,
            "titleY": 74,
            "titleAlign": "center",
            "titleBaseline": "middle"
          }
        },
        "y": {
          "field": "v", "type": "quantitative",
          "scale": {"domain": [0, 80], "nice": false},
          "axis": {
            "orient": "left",
            "values": [0, 10, 20, 30, 40, 50, 60, 70, 80],
            "labelFontSize": 11,
            "labelColor": "#222222",
            "labelPadding": 4,
            "labelFlush": false,
            "labelOverlap": false,
            "ticks": false,
            "domain": false,
            "grid": true,
            "gridColor": "#5a5a5a",
            "gridWidth": 1.5,
            "title": "TEPLOTA [⁰C]",
            "titleFont": "DejaVu Sans",
            "titleFontStyle": "italic",
            "titleFontWeight": "normal",
            "titleFontSize": 21,
            "titleColor": "#111111",
            "titleAngle": -90,
            "titleX": -41,
            "titleY": 263,
            "titleAlign": "center",
            "titleBaseline": "middle"
          }
        },
        "color": {
          "field": "s", "type": "nominal",
          "scale": {"domain": ["a", "b", "c"], "range": ["#e34a4e", "#4a4adf", "#2f9a36"]},
          "legend": {
            "orient": "none",
            "legendX": 469,
            "legendY": 10,
            "title": null,
            "symbolSize": 0,
            "symbolOpacity": 0,
            "labelOffset": -13,
            "labelFont": "DejaVu Serif",
            "labelFontWeight": "bold",
            "labelFontSize": 14,
            "labelLimit": 400,
            "rowPadding": 2,
            "padding": 7,
            "fillColor": "white",
            "strokeColor": "#d0d0d0",
            "labelExpr": "datum.value === 'a' ? 'TEPLOTA POHONU' : datum.value === 'b' ? 'SPÄTNÁ TEPLOTA' : 'TEPLOTA SPALÍN (x10 ⁰C)'",
            "encode": {
              "labels": {
                "update": {
                  "fill": {"signal": "datum.value === 'a' ? '#e0282e' : datum.value === 'b' ? '#263a9e' : '#1f8a2c'"}
                }
              }
            }
          }
        }
      }
    }
  ],
  "resolve": {"axis": {"x": "independent", "y": "independent"}}
}
